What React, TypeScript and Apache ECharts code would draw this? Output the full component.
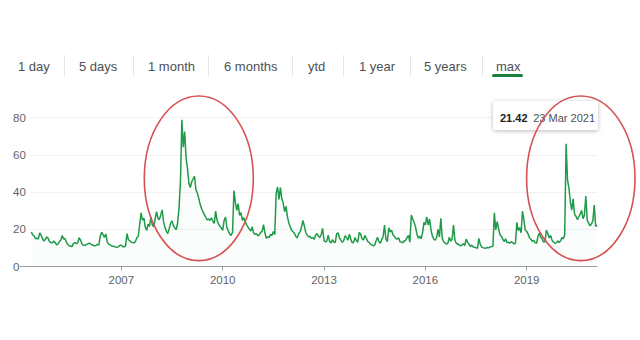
import React, { useEffect, useRef } from "react";
import * as echarts from "echarts";

// Semi-monthly VIX readings (index 0 = 1 Jan, 1 = mid Jan, ...)
const vix2004Start = 8; // first reading: beginning of May 2004
const vix2004 = [18.6, 17.2, 16.5, 15.1, 15.3, 14.8, 18.2, 16.9, 15.0, 13.8, 14.6, 16.0, 15.2, 13.4, 13.0, 12.8];
const vix2005 = [13.8, 12.9, 11.8, 12.1, 13.5, 14.2, 16.8, 14.9, 15.2, 13.1, 11.9, 11.2, 11.0, 10.8, 12.5, 12.9, 12.4, 12.8, 15.6, 14.3, 12.2, 11.6, 11.3, 11.9];
const vix2006 = [12.1, 12.6, 12.4, 11.8, 11.5, 11.2, 11.4, 12.0, 11.6, 16.3, 18.5, 17.2, 15.8, 17.6, 13.2, 12.1, 11.7, 11.2, 11.0, 10.9, 10.6, 10.4, 10.8, 11.5];
const vix2007 = [11.5, 10.8, 10.6, 11.2, 17.8, 14.6, 13.9, 13.2, 13.0, 12.8, 13.5, 15.6, 16.2, 22.4, 28.9, 25.0, 26.1, 21.3, 19.5, 22.8, 21.6, 26.8, 22.5, 21.4];
const vix2008 = [25.5, 29.6, 26.0, 25.3, 27.8, 30.5, 24.2, 21.0, 19.0, 17.8, 20.5, 23.4, 24.6, 22.0, 20.8, 19.9, 23.6, 31.7, 46.0, 78.9, 64.2, 72.5, 58.3, 52.6];
const vix2009 = [44.8, 42.5, 45.6, 47.2, 48.5, 41.3, 39.6, 36.8, 33.5, 31.2, 29.4, 28.0, 26.5, 25.2, 25.6, 24.8, 26.3, 24.5, 23.2, 29.8, 24.9, 23.1, 21.6, 20.9];
const vix2010 = [19.5, 24.8, 26.6, 21.0, 19.2, 17.6, 16.8, 18.5, 40.8, 34.5, 30.2, 33.8, 27.6, 29.0, 24.9, 26.3, 24.1, 22.5, 21.3, 20.1, 19.2, 21.4, 18.0, 17.4];
const vix2011 = [17.8, 16.5, 17.1, 18.4, 19.0, 22.6, 18.2, 15.3, 16.0, 15.7, 17.4, 16.8, 18.9, 17.2, 39.5, 42.8, 36.1, 42.5, 36.6, 34.2, 29.6, 32.4, 26.8, 23.5];
const vix2012 = [21.4, 19.6, 18.8, 17.9, 16.2, 15.5, 17.8, 18.6, 21.2, 24.8, 21.9, 18.5, 17.1, 16.0, 16.4, 15.2, 15.6, 14.8, 16.9, 17.8, 16.4, 15.7, 17.3, 20.6];
const vix2013 = [14.1, 13.3, 13.8, 16.9, 13.5, 12.7, 14.6, 13.2, 13.0, 17.8, 18.2, 15.4, 14.3, 13.1, 14.0, 16.7, 15.6, 14.2, 17.5, 14.9, 12.8, 13.0, 15.6, 13.9];
const vix2014 = [13.2, 18.4, 17.6, 15.0, 14.3, 16.8, 15.4, 13.6, 13.1, 12.0, 11.8, 11.2, 11.6, 13.9, 15.8, 13.4, 12.6, 14.5, 16.2, 22.3, 14.8, 13.5, 20.9, 18.6];
const vix2015 = [19.6, 17.2, 16.4, 15.1, 14.8, 15.5, 13.4, 13.2, 12.9, 13.8, 14.2, 15.6, 16.8, 13.2, 27.8, 25.6, 23.9, 21.4, 17.6, 15.3, 16.4, 15.0, 18.2, 23.8];
const vix2016 = [22.5, 26.8, 22.4, 25.6, 19.8, 16.5, 14.8, 14.2, 15.6, 20.1, 16.0, 26.0, 15.2, 13.4, 12.8, 12.1, 12.6, 15.8, 13.6, 14.9, 22.4, 14.1, 12.6, 12.2];
const vix2017 = [11.8, 11.2, 11.6, 12.3, 11.4, 14.8, 13.2, 12.1, 10.8, 11.6, 10.6, 10.4, 10.2, 9.8, 15.2, 12.0, 10.6, 10.2, 10.0, 9.9, 10.4, 10.1, 10.6, 10.9];
const vix2018 = [11.0, 28.9, 19.8, 24.2, 20.5, 17.2, 16.4, 14.8, 13.5, 15.0, 12.8, 13.2, 12.6, 13.4, 12.9, 12.3, 12.6, 23.8, 19.4, 21.0, 18.2, 29.8, 25.1, 19.6];
const vix2019 = [18.9, 17.6, 15.4, 14.8, 13.6, 14.2, 12.9, 12.6, 16.2, 18.1, 15.8, 14.9, 13.2, 13.5, 19.6, 17.8, 15.4, 16.8, 14.2, 13.3, 12.6, 12.8, 13.9, 13.0];
const vix2020 = [13.8, 15.6, 14.9, 17.2, 66.0, 46.5, 42.3, 35.0, 30.4, 36.4, 28.2, 27.1, 25.3, 26.8, 28.4, 30.2, 25.8, 27.6, 37.9, 25.1, 23.4, 21.9, 23.0, 24.6];
const vix2021 = [33.1, 21.6, 22.3];

const yearTicks = [2007, 2010, 2013, 2016, 2019];
const xMin = 2004;
const xMax = 2021.09;
const yMax = 80;
const yInterval = 20;

const tabLabels = ["1 day", "5 days", "1 month", "6 months", "ytd", "1 year", "5 years", "max"];
const tooltipValue = "21.42";
const tooltipDate = "23 Mar 2021";

// layout (pixels)
const tabX = [18, 79, 148, 224, 308, 359, 424, 496];
const sepX = [64, 133, 208, 292, 343, 410, 482];

const FONT = '"Liberation Sans", Arial, Helvetica, sans-serif';

function buildSeries(): [number, number][] {
  const years: [number, number[], number][] = [
    [2004, vix2004, vix2004Start],
    [2005, vix2005, 0], [2006, vix2006, 0], [2007, vix2007, 0], [2008, vix2008, 0],
    [2009, vix2009, 0], [2010, vix2010, 0], [2011, vix2011, 0], [2012, vix2012, 0],
    [2013, vix2013, 0], [2014, vix2014, 0], [2015, vix2015, 0], [2016, vix2016, 0],
    [2017, vix2017, 0], [2018, vix2018, 0], [2019, vix2019, 0], [2020, vix2020, 0],
    [2021, vix2021, 0],
  ];
  const out: [number, number][] = [];
  years.forEach(([y, arr, start]) => {
    arr.forEach((v, i) => out.push([y + (start + i) / 24, v]));
  });
  return out;
}

export default function App() {
  const ref = useRef<HTMLDivElement>(null);
  useEffect(() => {
    if (!ref.current) return;
    const chart = echarts.init(ref.current, undefined, { renderer: "svg" });
    const graphics: any[] = [];
    tabLabels.forEach((t, i) => {
      graphics.push({
        type: "text",
        x: tabX[i],
        y: 66,
        style: { text: t, fill: "#4d5156", fontSize: 13, fontFamily: FONT, align: "left", verticalAlign: "middle" },
      });
    });
    sepX.forEach((x) => {
      graphics.push({
        type: "line",
        shape: { x1: x + 0.5, y1: 55, x2: x + 0.5, y2: 76 },
        style: { stroke: "#e6e6e6", lineWidth: 1 },
      });
    });
    graphics.push({
      type: "rect",
      shape: { x: 492, y: 74, width: 31, height: 3, r: 1.5 },
      style: { fill: "#188038" },
    });
    // hover tooltip box
    graphics.push({
      type: "rect",
      z: 50,
      shape: { x: 493, y: 101, width: 105, height: 29, r: 2 },
      style: { fill: "#ffffff", shadowBlur: 4, shadowColor: "rgba(0,0,0,0.28)", shadowOffsetY: 1 },
    });
    graphics.push({
      type: "text",
      z: 51,
      x: 500,
      y: 118,
      style: { text: tooltipValue, fill: "#202124", fontSize: 11, fontWeight: "bold", fontFamily: FONT, align: "left", verticalAlign: "middle" },
    });
    graphics.push({
      type: "text",
      z: 51,
      x: 595,
      y: 118,
      style: { text: tooltipDate, fill: "#4d5156", fontSize: 11, fontFamily: FONT, align: "right", verticalAlign: "middle" },
    });
    // red annotation ellipses
    graphics.push({
      type: "ellipse",
      z: 100,
      shape: { cx: 198.8, cy: 178.3, rx: 54.5, ry: 82.3 },
      style: { fill: "none", stroke: "#d65252", lineWidth: 1.6 },
    });
    graphics.push({
      type: "ellipse",
      z: 100,
      shape: { cx: 580.8, cy: 178.3, rx: 54.2, ry: 82.3 },
      style: { fill: "none", stroke: "#d65252", lineWidth: 1.6 },
    });

    chart.setOption({
      animation: false,
      backgroundColor: "#ffffff",
      grid: { left: 20, right: 42.7, top: 117.7, bottom: 73.3, containLabel: false, outerBoundsMode: "none" },
      xAxis: {
        type: "value",
        min: xMin,
        max: xMax,
        axisLine: { show: true, lineStyle: { color: "#9aa0a6", width: 1 } },
        axisTick: { show: true, length: 4, customValues: yearTicks, lineStyle: { color: "#9aa0a6" } },
        axisLabel: {
          customValues: yearTicks,
          color: "#5f6368",
          fontSize: 11.5,
          fontFamily: FONT,
          margin: 7,
          formatter: (v: number) => String(Math.round(v)),
        },
        splitLine: { show: false },
      },
      yAxis: {
        type: "value",
        min: 0,
        max: yMax,
        interval: yInterval,
        axisLine: { show: false },
        axisTick: { show: false },
        splitLine: { show: true, lineStyle: { color: "#f1f1f1", width: 1 } },
        axisLabel: {
          align: "left",
          margin: 7,
          formatter: (v: number) => (v === 0 ? "{z|0}" : "{g|" + v + "}"),
          rich: {
            z: { color: "#5f6368", fontSize: 11.5, fontFamily: FONT },
            g: { color: "#5f6368", fontSize: 11.5, fontFamily: FONT, backgroundColor: "#ffffff", padding: [2, 4, 2, 0] },
          },
        },
      },
      series: [
        {
          type: "line",
          data: buildSeries(),
          showSymbol: false,
          symbol: "none",
          lineStyle: { color: "#1f9a48", width: 1.5 },
          areaStyle: { color: "rgba(40,160,80,0.035)" },
          z: 3,
        },
      ],
      graphic: graphics,
    });
    return () => chart.dispose();
  }, []);
  return <div ref={ref} style={{ position: "absolute", left: 0, top: 0, width: 640, height: 340 }} />;
}
